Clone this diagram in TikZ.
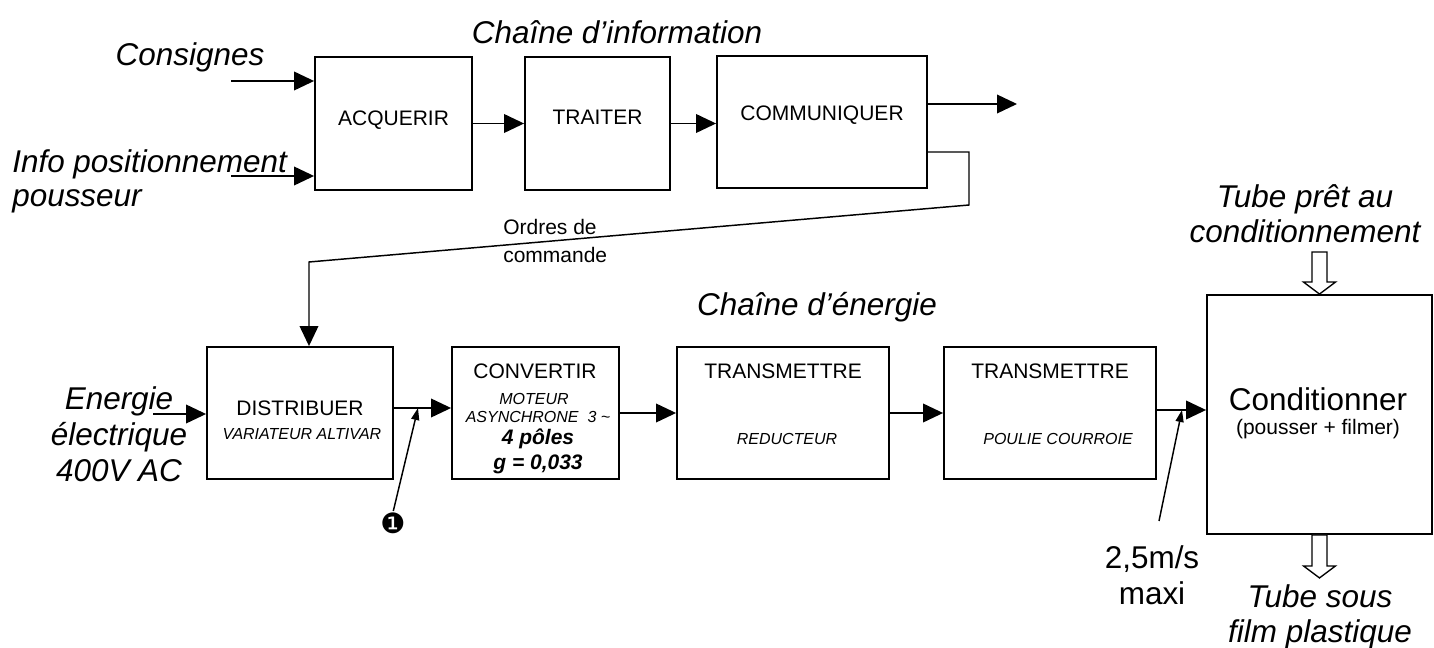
\documentclass[tikz,border=0pt]{standalone}
\usepackage{fontspec}
\setmainfont{Liberation Sans}
\newfontfamily\dingfont{DejaVu Sans}
\usepackage{tikz}
\usetikzlibrary{arrows.meta}
\newcommand\grand{\fontsize{23.6pt}{27pt}\selectfont}
\newcommand\moyen{\fontsize{15.75pt}{21pt}\selectfont}
\newcommand\petit{\fontsize{12pt}{14pt}\selectfont}
\tikzset{
  bloc/.style={draw, line width=1.4pt, inner sep=0pt},
  fleche/.style={line width=1.1pt, -{Triangle[length=15pt,width=14pt]}},
  repere/.style={line width=1.1pt, -{Triangle[length=9pt,width=6pt]}},
  creuse/.style={draw, line width=1pt, fill=white},
  lab/.style={font=\grand\itshape, inner sep=0pt},
  txt/.style={font=\moyen, inner sep=0pt},
  sub/.style={font=\petit\itshape, inner sep=0pt},
  gras/.style={font=\moyen\bfseries\itshape, inner sep=0pt},
}

\begin{document}
\begin{tikzpicture}[x=0.75pt, y=-0.75pt]
  \useasboundingbox (0,0) rectangle (1434,648);

  % chaine d'information
  \node[lab] (titreinfo) at (617,32) {Chaîne d’information};
  \node[bloc, minimum width=117.75pt, minimum height=99.75pt] (acq) at (393.5,123.5) {};
  \node[bloc, minimum width=108.75pt, minimum height=99.75pt] (trait) at (597.5,123.5) {};
  \node[bloc, minimum width=157.5pt, minimum height=99pt] (comm) at (822,122) {};
  \node[txt] (tacq) at (393.5,120) {ACQUERIR};
  \node[txt] (ttrait) at (597.5,117) {TRAITER};
  \node[txt] (tcomm) at (822,115) {COMMUNIQUER};

  \node[lab] (consignes) at (190,57) {Consignes};
  \node[lab, anchor=west, align=left, font=\fontsize{23.6pt}{25.5pt}\selectfont\itshape] (infopos) at (12,181) {Info positionnement\\pousseur};
  \coordinate (c1) at (231,81);
  \coordinate (c2) at (231,176);
  \draw[fleche] (c1) -- (c1 -| acq.west);
  \draw[fleche] (c2) -- (c2 -| acq.west);
  \draw[fleche] (acq.east) -- (acq.east -| trait.west);
  \draw[fleche] (trait.east) -- (trait.east -| comm.west);
  \coordinate (sortie) at (1017,104);
  \draw[fleche] (sortie -| comm.east) -- (sortie);

  % ordres de commande
  \coordinate (o1) at (969,152);
  \coordinate (o2) at (969,205);
  \coordinate (o3) at (309,262);
  \node[txt, anchor=west, align=left] (ordres) at (503,241) {Ordres de\\commande};

  % chaine d'energie
  \node[lab] (titreener) at (817,307) {Chaîne d’énergie};
  \node[bloc, minimum width=139.5pt, minimum height=99pt] (dist) at (300,413) {};
  \node[bloc, minimum width=125.25pt, minimum height=99pt] (conv) at (535.5,413) {};
  \node[bloc, minimum width=159pt, minimum height=99pt] (trans1) at (783,413) {};
  \node[bloc, minimum width=159pt, minimum height=99pt] (trans2) at (1050,413) {};
  \node[bloc, minimum width=168.75pt, minimum height=179.25pt] (cond) at (1319.5,414.5) {};

  \draw[fleche] (o1 -| comm.east) -- (o1) -- (o2) -- (o3) -- (o3 |- dist.north);

  \node[txt] (tdist) at (300,408) {DISTRIBUER};
  \node[sub] (sdist) at (302,434) {VARIATEUR ALTIVAR};
  \node[txt] (tconv) at (535,371) {CONVERTIR};
  \node[sub] (sconv1) at (534,399) {MOTEUR};
  \node[sub] (sconv2) at (538,417) {ASYNCHRONE\ \ 3 \textasciitilde};
  \node[gras] (sconv3) at (538,439) {4 pôles};
  \node[gras] (sconv4) at (538,464) {g = 0,033};
  \node[txt] (ttrans1) at (783,371) {TRANSMETTRE};
  \node[sub] (strans1) at (787,439) {REDUCTEUR};
  \node[txt] (ttrans2) at (1050,371) {TRANSMETTRE};
  \node[sub] (strans2) at (1058,439) {POULIE COURROIE};
  \node[font=\grand, inner sep=0pt] (tcond) at (1318,399) {Conditionner};
  \node[txt] (scond) at (1318,429) {(pousser + filmer)};

  \node[lab, align=center, font=\fontsize{23.6pt}{27pt}\selectfont\itshape] (energie) at (119,434) {Energie\\électrique\\400V AC};
  \coordinate (e1) at (153,414);
  \draw[fleche] (e1) -- (e1 -| dist.west);

  \coordinate (m1) at (418,408);
  \coordinate (m2) at (1182,410);
  \draw[fleche] (m1 -| dist.east) -- (m1 -| conv.west);
  \draw[fleche] (conv.east) -- (trans1.west);
  \draw[fleche] (trans1.east) -- (trans2.west);
  \draw[fleche] (m2 -| trans2.east) -- (m2 -| cond.west);

  \node[font=\dingfont\fontsize{21pt}{21pt}\selectfont, inner sep=0pt] (rep) at (393,523) {❶};
  \draw[repere, shorten <=1pt] (rep.north) -- (m1);
  \node[font=\grand, align=center, inner sep=0pt] (vit) at (1152,575) {2,5m/s\\maxi};
  \coordinate (v0) at (1159,521);
  \draw[repere] (v0) -- (m2);

  \node[lab, align=center, font=\fontsize{23.6pt}{26pt}\selectfont\itshape] (tubein) at (1305,214) {Tube prêt au\\conditionnement};
  \node[lab, align=center, font=\fontsize{23.6pt}{26pt}\selectfont\itshape] (tubeout) at (1320,617) {Tube sous\\film plastique};
  % fleches creuses
  \draw[creuse, shift={(cond.north)}] (-7.5,-42) -- (7.5,-42) -- (7.5,-12) -- (16,-12) -- (0,0) -- (-16,-12) -- (-7.5,-12) -- cycle;
  \draw[creuse, shift={(cond.south)}] (-7.5,0) -- (7.5,0) -- (7.5,31) -- (16,31) -- (0,43) -- (-16,31) -- (-7.5,31) -- cycle;
\end{tikzpicture}
\end{document}
